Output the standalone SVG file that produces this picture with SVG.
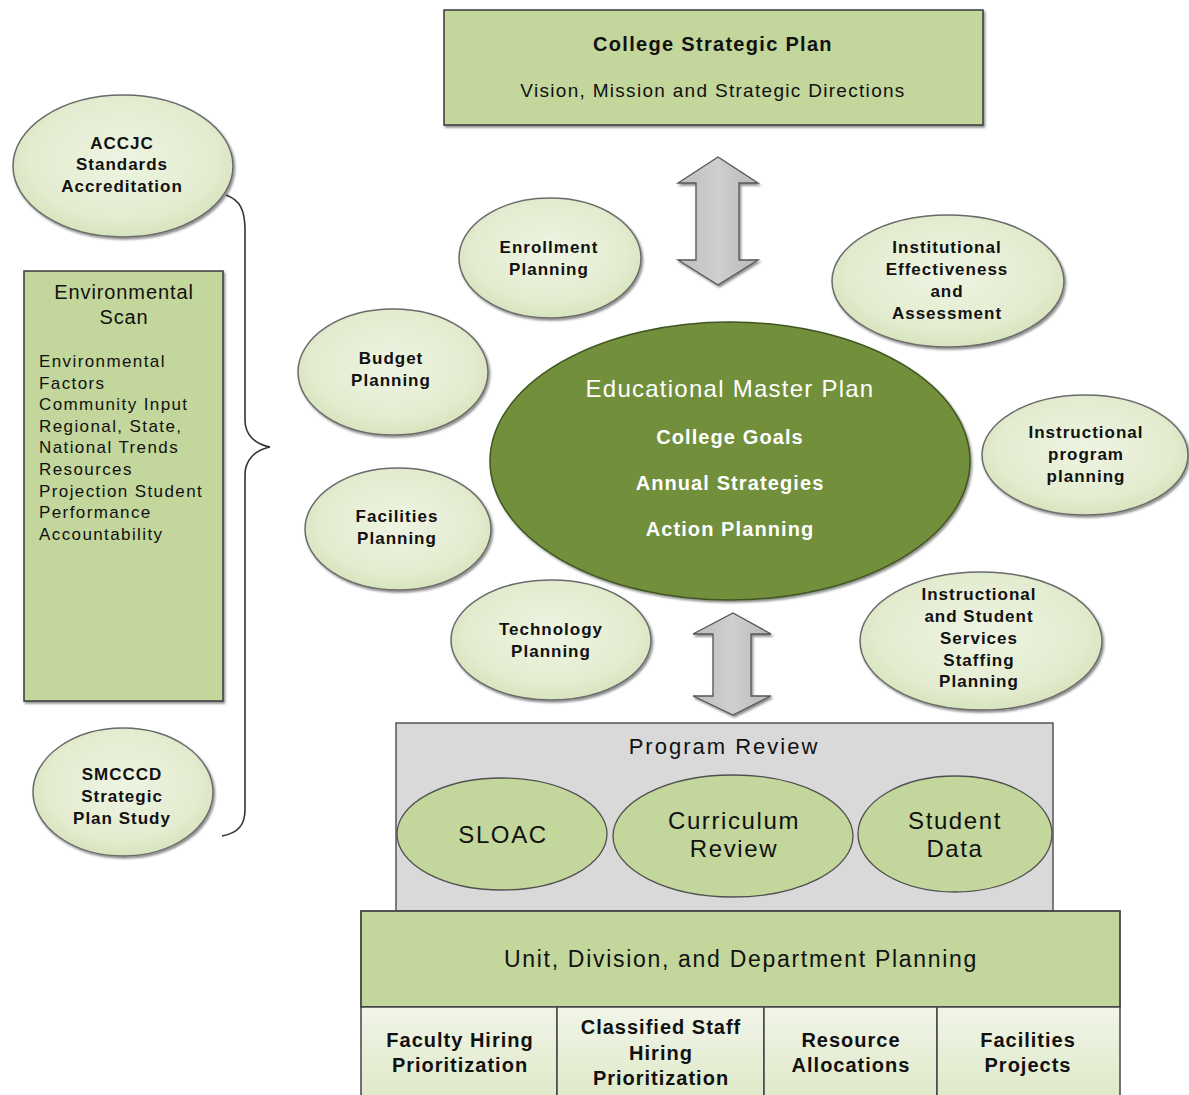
<svg xmlns="http://www.w3.org/2000/svg" width="1189" height="1095" viewBox="0 0 1189 1095">
<defs>
<radialGradient id="lg" cx="50%" cy="45%" r="60%">
<stop offset="0" stop-color="#eef4e2"/>
<stop offset="0.7" stop-color="#e3ecd0"/>
<stop offset="1" stop-color="#d3e0b6"/>
</radialGradient>
<linearGradient id="cellg" x1="0" y1="0" x2="0" y2="1">
<stop offset="0" stop-color="#f1f5e8"/>
<stop offset="1" stop-color="#dfe9c9"/>
</linearGradient>
<linearGradient id="arrg" x1="0" y1="0" x2="1" y2="0">
<stop offset="0" stop-color="#bdbdbd"/>
<stop offset="0.5" stop-color="#cfcfcf"/>
<stop offset="1" stop-color="#b8b8b8"/>
</linearGradient>
<filter id="sh" x="-10%" y="-10%" width="125%" height="125%">
<feDropShadow dx="1.5" dy="2" stdDeviation="1.2" flood-color="#000" flood-opacity="0.45"/>
</filter>
</defs>
<style>
.t{font-family:"Liberation Sans",Arial,sans-serif;fill:#111;text-anchor:middle}
.b{font-weight:bold}
.w{fill:#fff}
.s{font-size:17px;font-weight:bold;letter-spacing:1px}
.l{font-size:17px;letter-spacing:1.4px;text-anchor:start}
.c{font-size:20px;font-weight:bold;letter-spacing:1px}
.el{fill:url(#lg);stroke:#6b6b6b;stroke-width:1.5}
.box{fill:#c3d69b;stroke:#3a3a3a;stroke-width:1.5}
.pe{fill:#c3d69b;stroke:#505050;stroke-width:1.3}
.pt{font-size:24px;letter-spacing:1.6px}
.arr{fill:url(#arrg);stroke:#555;stroke-width:1.3}
</style>

<g id="college-strategic-plan">
<rect class="box" x="444" y="10" width="539" height="115" filter="url(#sh)"/>
<text class="t b" x="713" y="51" font-size="20" letter-spacing="1.3">College Strategic Plan</text>
<text class="t" x="713" y="97" font-size="19" letter-spacing="1.3">Vision, Mission and Strategic Directions</text>
</g>

<g id="connectors">
<path class="arr" filter="url(#sh)" d="M718,157 L758,183 L739,183 L739,260 L758,260 L718,285 L678,260 L696,260 L696,183 L678,183 Z"/>
<path class="arr" filter="url(#sh)" d="M733,613 L771,634 L751,634 L751,696 L771,696 L733,715 L693,696 L713,696 L713,634 L693,634 Z"/>
<path d="M226,195 C240,200 245,210 245,230 L245,420 C245,435 255,444 270,447 C255,450 245,460 245,475 L245,810 C245,825 238,833 222,836" fill="none" stroke="#333" stroke-width="1.6"/>
</g>

<g id="accjc">
<ellipse class="el" cx="123" cy="166" rx="110" ry="71" filter="url(#sh)"/>
<text class="t s" x="122" y="149">ACCJC</text>
<text class="t s" x="122" y="170">Standards</text>
<text class="t s" x="122" y="192">Accreditation</text>
</g>

<g id="environmental-scan">
<rect class="box" x="24" y="271" width="199" height="430" filter="url(#sh)"/>
<text class="t" x="124" y="299" font-size="20" letter-spacing="0.9">Environmental</text>
<text class="t" x="124" y="324" font-size="20" letter-spacing="0.9">Scan</text>
<text class="t l" x="39" y="367">Environmental</text>
<text class="t l" x="39" y="389">Factors</text>
<text class="t l" x="39" y="410">Community Input</text>
<text class="t l" x="39" y="432">Regional, State,</text>
<text class="t l" x="39" y="453">National Trends</text>
<text class="t l" x="39" y="475">Resources</text>
<text class="t l" x="39" y="497">Projection  Student</text>
<text class="t l" x="39" y="518">Performance</text>
<text class="t l" x="39" y="540">Accountability</text>
</g>

<g id="smcccd">
<ellipse class="el" cx="123" cy="792" rx="90" ry="64" filter="url(#sh)"/>
<text class="t s" x="122" y="780">SMCCCD</text>
<text class="t s" x="122" y="802">Strategic</text>
<text class="t s" x="122" y="824">Plan Study</text>
</g>

<g id="enrollment">
<ellipse class="el" cx="550" cy="258" rx="91" ry="60" filter="url(#sh)"/>
<text class="t s" x="549" y="253">Enrollment</text>
<text class="t s" x="549" y="275">Planning</text>
</g>

<g id="budget">
<ellipse class="el" cx="393" cy="372" rx="95" ry="63" filter="url(#sh)"/>
<text class="t s" x="391" y="364">Budget</text>
<text class="t s" x="391" y="386">Planning</text>
</g>

<g id="institutional-effectiveness">
<ellipse class="el" cx="948" cy="281" rx="116" ry="66" filter="url(#sh)"/>
<text class="t s" x="947" y="253">Institutional</text>
<text class="t s" x="947" y="275">Effectiveness</text>
<text class="t s" x="947" y="297">and</text>
<text class="t s" x="947" y="319">Assessment</text>
</g>

<g id="instructional-program">
<ellipse class="el" cx="1085" cy="455" rx="103" ry="60" filter="url(#sh)"/>
<text class="t s" x="1086" y="438">Instructional</text>
<text class="t s" x="1086" y="460">program</text>
<text class="t s" x="1086" y="482">planning</text>
</g>

<g id="facilities-planning">
<ellipse class="el" cx="398" cy="529" rx="93" ry="61" filter="url(#sh)"/>
<text class="t s" x="397" y="522">Facilities</text>
<text class="t s" x="397" y="544">Planning</text>
</g>

<g id="technology">
<ellipse class="el" cx="551" cy="640" rx="100" ry="60" filter="url(#sh)"/>
<text class="t s" x="551" y="635">Technology</text>
<text class="t s" x="551" y="657">Planning</text>
</g>

<g id="staffing">
<ellipse class="el" cx="981" cy="641" rx="121" ry="69" filter="url(#sh)"/>
<text class="t s" x="979" y="600">Instructional</text>
<text class="t s" x="979" y="622">and Student</text>
<text class="t s" x="979" y="644">Services</text>
<text class="t s" x="979" y="666">Staffing</text>
<text class="t s" x="979" y="687">Planning</text>
</g>

<g id="educational-master-plan">
<ellipse cx="730" cy="461" rx="240" ry="139" fill="#728f3b" stroke="#3f5420" stroke-width="1.5" filter="url(#sh)"/>
<text class="t w" x="730" y="397" font-size="24" letter-spacing="1.25">Educational Master Plan</text>
<text class="t b w" x="730" y="444" font-size="20" letter-spacing="1.1">College Goals</text>
<text class="t b w" x="730" y="490" font-size="20" letter-spacing="1.1">Annual Strategies</text>
<text class="t b w" x="730" y="536" font-size="20" letter-spacing="1.1">Action Planning</text>
</g>

<g id="program-review">
<rect x="396" y="723" width="657" height="188" fill="#d9d9d9" stroke="#555" stroke-width="1.5"/>
<text class="t" x="724" y="754" font-size="22" letter-spacing="2">Program Review</text>
<ellipse class="pe" cx="502" cy="834" rx="105" ry="56"/>
<text class="t pt" x="503" y="843">SLOAC</text>
<ellipse class="pe" cx="733" cy="836" rx="120" ry="61"/>
<text class="t pt" x="734" y="829">Curriculum</text>
<text class="t pt" x="734" y="857">Review</text>
<ellipse class="pe" cx="955" cy="834" rx="97" ry="58"/>
<text class="t pt" x="955" y="829">Student</text>
<text class="t pt" x="955" y="857">Data</text>
</g>

<g id="unit-planning">
<rect x="361" y="911" width="759" height="96" fill="#c3d69b" stroke="#444" stroke-width="1.8"/>
<text class="t" x="741" y="967" font-size="23" letter-spacing="1.7">Unit, Division, and Department Planning</text>
</g>

<g id="faculty-hiring">
<rect x="361" y="1007" width="196" height="90" fill="url(#cellg)" stroke="#444" stroke-width="1.5"/>
<text class="t c" x="460" y="1047">Faculty Hiring</text>
<text class="t c" x="460" y="1072">Prioritization</text>
</g>
<g id="classified-staff">
<rect x="557" y="1007" width="207" height="90" fill="url(#cellg)" stroke="#444" stroke-width="1.5"/>
<text class="t c" x="661" y="1034">Classified Staff</text>
<text class="t c" x="661" y="1060">Hiring</text>
<text class="t c" x="661" y="1085">Prioritization</text>
</g>
<g id="resource-allocations">
<rect x="764" y="1007" width="173" height="90" fill="url(#cellg)" stroke="#444" stroke-width="1.5"/>
<text class="t c" x="851" y="1047">Resource</text>
<text class="t c" x="851" y="1072">Allocations</text>
</g>
<g id="facilities-projects">
<rect x="937" y="1007" width="183" height="90" fill="url(#cellg)" stroke="#444" stroke-width="1.5"/>
<text class="t c" x="1028" y="1047">Facilities</text>
<text class="t c" x="1028" y="1072">Projects</text>
</g>
</svg>
